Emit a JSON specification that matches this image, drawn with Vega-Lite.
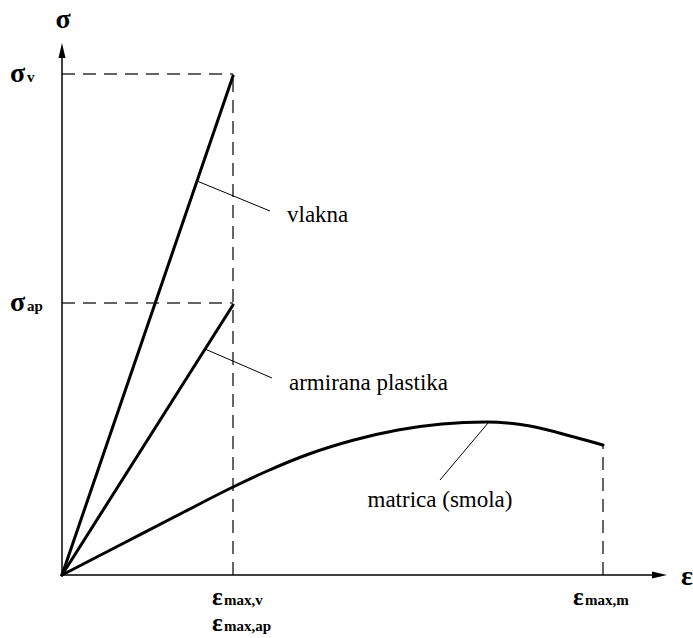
{
  "$schema": "https://vega.github.io/schema/vega-lite/v6.json",
  "width": 605,
  "height": 532,
  "autosize": "none",
  "padding": {"left": 62, "top": 43, "right": 26, "bottom": 63},
  "background": "white",
  "config": {"view": {"stroke": null}, "text": {"font": "Liberation Serif", "color": "black"}},
  "datasets": {
    "curves": [
      {"series": "vlakna", "ord": 0, "eps": 0, "sig": 0},
      {"series": "vlakna", "ord": 1, "eps": 171, "sig": 499},
      {"series": "armirana plastika", "ord": 0, "eps": 0, "sig": 0},
      {"series": "armirana plastika", "ord": 1, "eps": 171, "sig": 270},
      {"series": "matrica", "ord": 0, "eps": 0, "sig": 0},
      {"series": "matrica", "ord": 1, "eps": 60, "sig": 31},
      {"series": "matrica", "ord": 2, "eps": 120, "sig": 62},
      {"series": "matrica", "ord": 3, "eps": 171, "sig": 88},
      {"series": "matrica", "ord": 4, "eps": 203, "sig": 103},
      {"series": "matrica", "ord": 5, "eps": 247, "sig": 121},
      {"series": "matrica", "ord": 6, "eps": 292, "sig": 135},
      {"series": "matrica", "ord": 7, "eps": 336, "sig": 145},
      {"series": "matrica", "ord": 8, "eps": 380, "sig": 151},
      {"series": "matrica", "ord": 9, "eps": 424, "sig": 153},
      {"series": "matrica", "ord": 10, "eps": 468, "sig": 149},
      {"series": "matrica", "ord": 11, "eps": 512, "sig": 138},
      {"series": "matrica", "ord": 12, "eps": 541, "sig": 130}
    ],
    "guides": [
      {"eps": 0, "sig": 501, "eps2": 171, "sig2": 501},
      {"eps": 171, "sig": 0, "eps2": 171, "sig2": 501},
      {"eps": 0, "sig": 272, "eps2": 171, "sig2": 272},
      {"eps": 541, "sig": 0, "eps2": 541, "sig2": 130}
    ],
    "axes": [
      {"eps": 0, "sig": 0, "eps2": 0, "sig2": 522},
      {"eps": 0, "sig": 0, "eps2": 595, "sig2": 0}
    ],
    "leaders": [
      {"eps": 135, "sig": 394, "eps2": 208, "sig2": 364},
      {"eps": 143, "sig": 226, "eps2": 210, "sig2": 197},
      {"eps": 426, "sig": 152, "eps2": 378, "sig2": 95}
    ],
    "names": [
      {"name": "vlakna", "eps": 225, "sig": 353},
      {"name": "armirana plastika", "eps": 227, "sig": 185}
    ]
  },
  "layer": [
    {
      "data": {"name": "guides"},
      "mark": {"type": "rule", "strokeDash": [13, 8], "color": "#333333", "strokeWidth": 1.5},
      "encoding": {
        "x": {"field": "eps", "type": "quantitative", "scale": {"domain": [0, 605], "nice": false}, "axis": null},
        "y": {"field": "sig", "type": "quantitative", "scale": {"domain": [0, 532], "nice": false}, "axis": null},
        "x2": {"field": "eps2"},
        "y2": {"field": "sig2"}
      }
    },
    {
      "data": {"name": "axes"},
      "mark": {"type": "rule", "color": "black", "strokeWidth": 1.5},
      "encoding": {
        "x": {"field": "eps", "type": "quantitative"},
        "y": {"field": "sig", "type": "quantitative"},
        "x2": {"field": "eps2"},
        "y2": {"field": "sig2"}
      }
    },
    {
      "data": {"values": [{"eps": 0, "sig": 532}]},
      "mark": {"type": "point", "shape": "M0,0L0.47,2L-0.47,2Z", "size": 225, "filled": true, "color": "black", "opacity": 1},
      "encoding": {
        "x": {"field": "eps", "type": "quantitative"},
        "y": {"field": "sig", "type": "quantitative"}
      }
    },
    {
      "data": {"values": [{"eps": 605, "sig": 0}]},
      "mark": {"type": "point", "shape": "M0,0L-2,-0.47L-2,0.47Z", "size": 225, "filled": true, "color": "black", "opacity": 1},
      "encoding": {
        "x": {"field": "eps", "type": "quantitative"},
        "y": {"field": "sig", "type": "quantitative"}
      }
    },
    {
      "data": {"name": "curves"},
      "mark": {"type": "line", "color": "black", "strokeWidth": 3, "interpolate": "monotone", "strokeCap": "round", "strokeJoin": "round"},
      "encoding": {
        "x": {"field": "eps", "type": "quantitative"},
        "y": {"field": "sig", "type": "quantitative"},
        "detail": {"field": "series"},
        "order": {"field": "ord", "type": "quantitative"}
      }
    },
    {
      "data": {"name": "leaders"},
      "mark": {"type": "rule", "color": "black", "strokeWidth": 1},
      "encoding": {
        "x": {"field": "eps", "type": "quantitative"},
        "y": {"field": "sig", "type": "quantitative"},
        "x2": {"field": "eps2"},
        "y2": {"field": "sig2"}
      }
    },
    {
      "data": {"name": "names"},
      "mark": {"type": "text", "fontSize": 23, "align": "left", "baseline": "alphabetic"},
      "encoding": {
        "x": {"field": "eps", "type": "quantitative"},
        "y": {"field": "sig", "type": "quantitative"},
        "text": {"field": "name"}
      }
    },
    {
      "data": {"values": [{"name": "matrica (smola)", "eps": 378, "sig": 68}]},
      "mark": {"type": "text", "fontSize": 23, "align": "center", "baseline": "alphabetic"},
      "encoding": {
        "x": {"field": "eps", "type": "quantitative"},
        "y": {"field": "sig", "type": "quantitative"},
        "text": {"field": "name"}
      }
    },
    {
      "data": {"values": [{"t": "σ", "eps": 0, "sig": 532}]},
      "mark": {"type": "text", "fontSize": 28, "fontWeight": "bold", "align": "center", "baseline": "alphabetic", "dx": 1, "dy": -15},
      "encoding": {
        "x": {"field": "eps", "type": "quantitative"},
        "y": {"field": "sig", "type": "quantitative"},
        "text": {"field": "t"}
      }
    },
    {
      "data": {"values": [{"t": "ε", "eps": 605, "sig": 0}]},
      "mark": {"type": "text", "fontSize": 28, "fontWeight": "bold", "align": "left", "baseline": "alphabetic", "dx": 14, "dy": 10},
      "encoding": {
        "x": {"field": "eps", "type": "quantitative"},
        "y": {"field": "sig", "type": "quantitative"},
        "text": {"field": "t"}
      }
    },
    {
      "data": {"values": [{"t": "σ", "eps": 0, "sig": 501}, {"t": "σ", "eps": 0, "sig": 272}]},
      "mark": {"type": "text", "fontSize": 28, "fontWeight": "bold", "align": "left", "baseline": "alphabetic", "dx": -52, "dy": 8},
      "encoding": {
        "x": {"field": "eps", "type": "quantitative"},
        "y": {"field": "sig", "type": "quantitative"},
        "text": {"field": "t"}
      }
    },
    {
      "data": {"values": [{"t": "v", "eps": 0, "sig": 501}, {"t": "ap", "eps": 0, "sig": 272}]},
      "mark": {"type": "text", "fontSize": 15, "fontWeight": "bold", "align": "left", "baseline": "alphabetic", "dx": -35, "dy": 8},
      "encoding": {
        "x": {"field": "eps", "type": "quantitative"},
        "y": {"field": "sig", "type": "quantitative"},
        "text": {"field": "t"}
      }
    },
    {
      "data": {"values": [{"t": "ε", "eps": 171, "sig": 0}]},
      "mark": {"type": "text", "fontSize": 25, "fontWeight": "bold", "align": "left", "baseline": "alphabetic", "dx": -21, "dy": 30},
      "encoding": {
        "x": {"field": "eps", "type": "quantitative"},
        "y": {"field": "sig", "type": "quantitative"},
        "text": {"field": "t"}
      }
    },
    {
      "data": {"values": [{"t": "max,v", "eps": 171, "sig": 0}]},
      "mark": {"type": "text", "fontSize": 15, "fontWeight": "bold", "align": "left", "baseline": "alphabetic", "dx": -9, "dy": 30},
      "encoding": {
        "x": {"field": "eps", "type": "quantitative"},
        "y": {"field": "sig", "type": "quantitative"},
        "text": {"field": "t"}
      }
    },
    {
      "data": {"values": [{"t": "ε", "eps": 171, "sig": 0}]},
      "mark": {"type": "text", "fontSize": 25, "fontWeight": "bold", "align": "left", "baseline": "alphabetic", "dx": -21, "dy": 56},
      "encoding": {
        "x": {"field": "eps", "type": "quantitative"},
        "y": {"field": "sig", "type": "quantitative"},
        "text": {"field": "t"}
      }
    },
    {
      "data": {"values": [{"t": "max,ap", "eps": 171, "sig": 0}]},
      "mark": {"type": "text", "fontSize": 15, "fontWeight": "bold", "align": "left", "baseline": "alphabetic", "dx": -9, "dy": 56},
      "encoding": {
        "x": {"field": "eps", "type": "quantitative"},
        "y": {"field": "sig", "type": "quantitative"},
        "text": {"field": "t"}
      }
    },
    {
      "data": {"values": [{"t": "ε", "eps": 541, "sig": 0}]},
      "mark": {"type": "text", "fontSize": 25, "fontWeight": "bold", "align": "left", "baseline": "alphabetic", "dx": -30, "dy": 30},
      "encoding": {
        "x": {"field": "eps", "type": "quantitative"},
        "y": {"field": "sig", "type": "quantitative"},
        "text": {"field": "t"}
      }
    },
    {
      "data": {"values": [{"t": "max,m", "eps": 541, "sig": 0}]},
      "mark": {"type": "text", "fontSize": 15, "fontWeight": "bold", "align": "left", "baseline": "alphabetic", "dx": -18, "dy": 30},
      "encoding": {
        "x": {"field": "eps", "type": "quantitative"},
        "y": {"field": "sig", "type": "quantitative"},
        "text": {"field": "t"}
      }
    }
  ]
}
